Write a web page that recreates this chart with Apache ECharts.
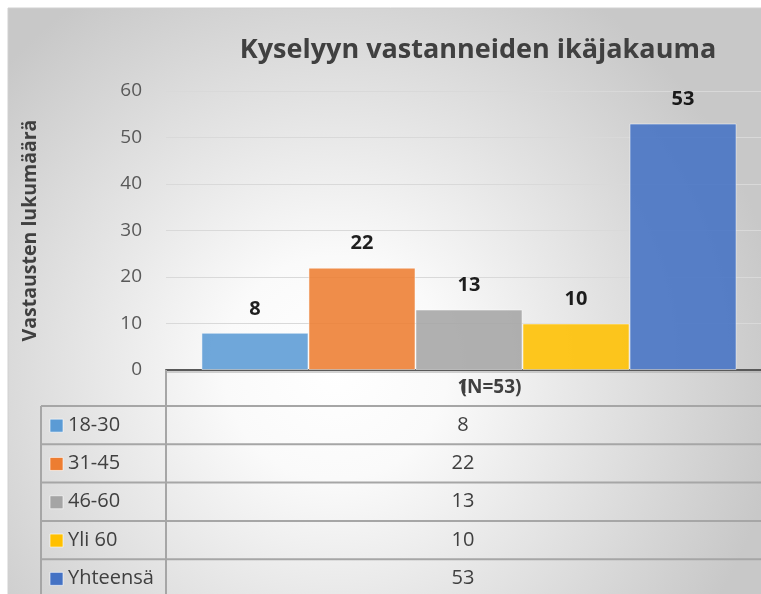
<!DOCTYPE html>
<html>
<head>
<meta charset="utf-8">
<script src="https://cdn.jsdelivr.net/npm/echarts@6/dist/echarts.min.js"></script>
<style>
  html, body { margin: 0; padding: 0; background: #fff; overflow: hidden; }
  #chart { width: 772px; height: 594px; }
</style>
</head>
<body>
<div id="chart"></div>
<script>
// data
var groups = ['18-30', '31-45', '46-60', 'Yli 60', 'Yhteensä'];
var counts = [8, 22, 13, 10, 53];
var colors = ['#5B9BD5', '#ED7D31', '#A5A5A5', '#FFC000', '#4472C4'];
var category = ['1'];
var yTicks = [0, 10, 20, 30, 40, 50, 60];

var FONT = 'Open Sans';
var plotLeft = 166, plotTop = 91, plotBottom = 370;
var tableTop = 406, rowH = 38.3, labelColLeft = 41;

var chart = echarts.init(document.getElementById('chart'));

// taulukko grafiikkana
var tableEls = [];
var lineStyle = { stroke: '#a6a6a6', lineWidth: 2 };
tableEls.push({ type: 'line', shape: { x1: plotLeft, y1: plotBottom, x2: plotLeft, y2: 600 }, style: lineStyle, z: 5 });
tableEls.push({ type: 'line', shape: { x1: labelColLeft, y1: tableTop, x2: labelColLeft, y2: 600 }, style: lineStyle, z: 5 });
tableEls.push({ type: 'line', shape: { x1: plotLeft, y1: plotBottom + 2, x2: 772, y2: plotBottom + 2 }, style: { stroke: '#a6a6a6', lineWidth: 1 }, z: 5 });
for (var i = 0; i <= groups.length; i++) {
  var y = tableTop + rowH * i;
  tableEls.push({ type: 'line', shape: { x1: labelColLeft, y1: y, x2: 772, y2: y }, style: lineStyle, z: 5 });
}
groups.forEach(function (g, i) {
  var cy = tableTop + rowH * i + rowH / 2;
  tableEls.push({ type: 'rect', shape: { x: 50, y: cy - 6, width: 13, height: 13 },
    style: { fill: colors[i], stroke: 'rgba(255,255,255,0.6)', lineWidth: 1 }, z: 6 });
  tableEls.push({ type: 'text', x: 68, y: cy, style: { text: g, font: '20px "' + FONT + '"',
    fill: '#404040', verticalAlign: 'middle', align: 'left' }, z: 6 });
  tableEls.push({ type: 'text', x: 463, y: cy, style: { text: String(counts[i]), font: '20px "' + FONT + '"',
    fill: '#404040', verticalAlign: 'middle', align: 'center' }, z: 6 });
});
tableEls.push({ type: 'text', x: 491, y: 388, style: { text: '(N=53)', font: 'bold 19px "' + FONT + '"',
  fill: '#404040', verticalAlign: 'middle', align: 'center' }, z: 6 });

var bg = {
  type: 'rect', z: -10, silent: true,
  shape: { x: 8, y: 8, width: 780, height: 620 },
  style: {
    fill: new echarts.graphic.RadialGradient(0.42, 0.58, 0.72, [
      { offset: 0, color: '#ffffff' },
      { offset: 0.25, color: '#fafafa' },
      { offset: 1, color: '#c8c8c8' }
    ]),
    stroke: '#d0d0d0', lineWidth: 1
  }
};

var option = {
  animation: false,
  textStyle: { fontFamily: FONT },
  title: {
    text: 'Kyselyyn vastanneiden ikäjakauma',
    left: 473, top: 32, textAlign: 'center',
    textStyle: { fontSize: 27, fontWeight: 'bold', color: '#404040', fontFamily: FONT }
  },
  grid: { left: plotLeft, right: 0, top: plotTop, bottom: 594 - plotBottom, containLabel: false },
  xAxis: {
    type: 'category',
    data: category,
    axisLine: { lineStyle: { color: '#595959', width: 2 } },
    axisTick: { show: false },
    axisLabel: { show: true, margin: 8, color: '#404040', fontSize: 19, fontWeight: 'bold',
      padding: [0, 12, 0, 0] }
  },
  yAxis: {
    type: 'value',
    min: 0, max: yTicks[yTicks.length - 1], interval: 10,
    name: 'Vastausten lukumäärä',
    nameLocation: 'middle',
    nameGap: 126,
    nameTextStyle: { fontSize: 19.5, fontWeight: 'bold', color: '#404040' },
    axisLine: { show: false },
    axisTick: { show: false },
    axisLabel: { margin: 24, fontSize: 19, color: '#595959' },
    splitLine: { lineStyle: { color: '#d9d9d9', width: 1 } }
  },
  series: groups.map(function (g, i) {
    return {
      name: g,
      type: 'bar',
      data: [counts[i]],
      barGap: '0%',
      barCategoryGap: '11.7%',
      itemStyle: { color: colors[i], opacity: 0.88, borderColor: 'rgba(255,255,255,0.55)', borderWidth: 1 },
      label: { show: true, position: 'top', distance: 14, fontSize: 20, fontWeight: 'bold', color: '#000' }
    };
  }),
  graphic: [bg].concat(tableEls)
};

chart.setOption(option);
</script>
</body>
</html>
